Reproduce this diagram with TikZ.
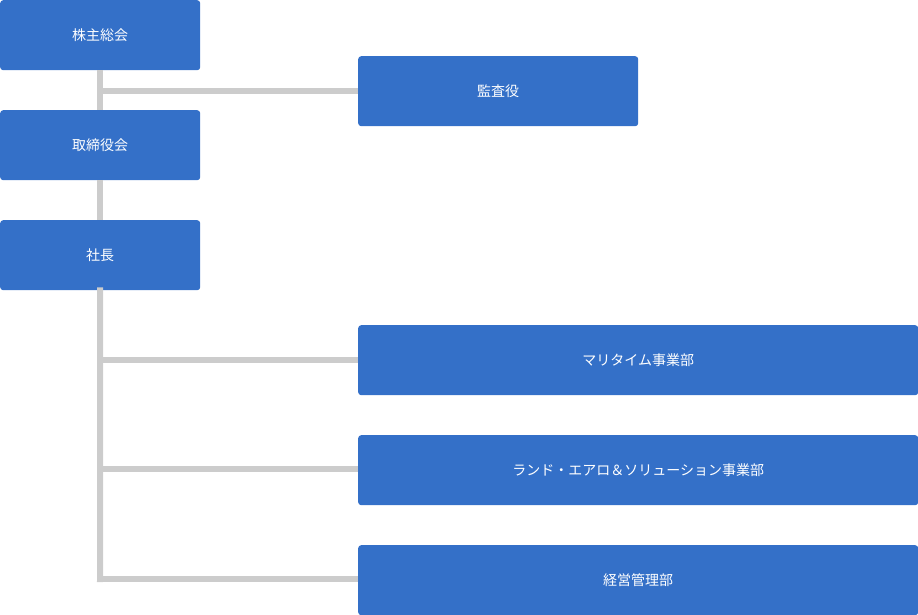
\documentclass[tikz,border=0pt]{standalone}
\usepackage{fontspec}
\setmainfont{Noto Sans CJK JP}
\begin{document}
\begin{tikzpicture}[x=1pt,y=-1pt,
  box/.style={fill=boxblue,rounded corners=3pt,text=white,font=\fontsize{14}{16}\selectfont,inner sep=0pt,anchor=north west},
  link/.style={draw=linegray,line width=6pt}]
\definecolor{boxblue}{HTML}{3470C8}
\definecolor{linegray}{HTML}{CCCCCC}
\useasboundingbox (0,0) rectangle (918,615);
\coordinate (v1) at (100,91);
\coordinate (v2) at (100,360);
\coordinate (v3) at (100,469);
\coordinate (v4) at (100,579);
\node[box,minimum width=200pt,minimum height=70pt] (a) at (0,0) {株主総会};
\node[box,minimum width=280pt,minimum height=70pt] (k) at (358,56) {監査役};
\node[box,minimum width=200pt,minimum height=70pt] (t) at (0,110) {取締役会};
\node[box,minimum width=200pt,minimum height=70pt] (s) at (0,220) {社長};
\node[box,minimum width=560pt,minimum height=70pt] (m) at (358,325) {マリタイム事業部};
\node[box,minimum width=560pt,minimum height=70pt] (l) at (358,435) {ランド・エアロ＆ソリューション事業部};
\node[box,minimum width=560pt,minimum height=70pt] (e) at (358,545) {経営管理部};
\begin{scope}[on background layer/.style={}]
\end{scope}
\begin{pgfonlayer}{main}\end{pgfonlayer}
\draw[link] (a.south) -- (t.north);
\draw[link] (t.south) -- (s.north);
\draw[link,line cap=rect] (s.south) -- (v4);
\draw[link] (v1) -- (k.west|-v1);
\draw[link] (v2) -- (m.west|-v2);
\draw[link] (v3) -- (l.west|-v3);
\draw[link] (v4) -- (e.west|-v4);
\end{tikzpicture}
\end{document}
